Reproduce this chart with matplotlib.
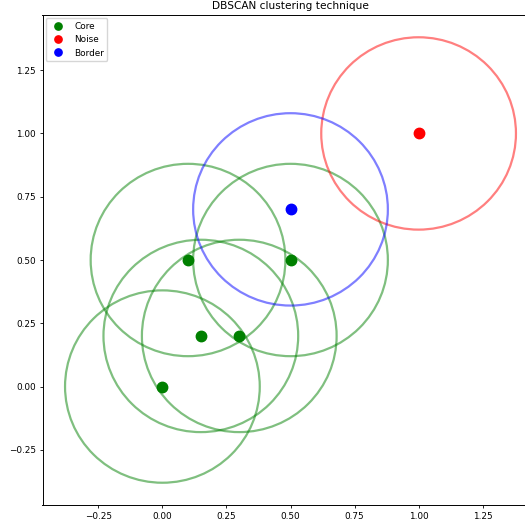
import matplotlib
matplotlib.use("Agg")
import matplotlib.pyplot as plt
from matplotlib.patches import Circle

# points and their DBSCAN role
core_x = [0.0, 0.15, 0.3, 0.1, 0.5]
core_y = [0.0, 0.2, 0.2, 0.5, 0.5]
noise_x = [1.0]
noise_y = [1.0]
border_x = [0.5]
border_y = [0.7]
eps = 0.38

fig = plt.figure(figsize=(5.25, 5.27), dpi=100)
ax = fig.add_axes([42.5 / 525, 22 / 527, 496 / 525, 490 / 527])

groups = [
    (core_x, core_y, "green", "Core"),
    (noise_x, noise_y, "red", "Noise"),
    (border_x, border_y, "blue", "Border"),
]
for xs, ys, color, label in groups:
    ax.plot(xs, ys, "o", color=color, markersize=7.5, label=label, zorder=3)
    for x, y in zip(xs, ys):
        ax.add_patch(Circle((x, y), eps, fill=False, edgecolor=color,
                            alpha=0.5, linewidth=1.6))

ax.set_xlim(-0.468, 1.468)
ax.set_ylim(-0.468, 1.468)
ax.set_xticks([-0.25, 0.0, 0.25, 0.5, 0.75, 1.0, 1.25])
ax.set_yticks([-0.25, 0.0, 0.25, 0.5, 0.75, 1.0, 1.25])
ax.set_title("DBSCAN clustering technique", fontsize=7.6, pad=4)
ax.tick_params(labelsize=6.4, length=2.3, pad=2.5, width=0.6)
for spine in ax.spines.values():
    spine.set_linewidth(0.7)
ax.legend(loc="upper left", fontsize=6.4, markerscale=0.7,
          borderaxespad=0.35)

fig.savefig("out.png", dpi=100)
